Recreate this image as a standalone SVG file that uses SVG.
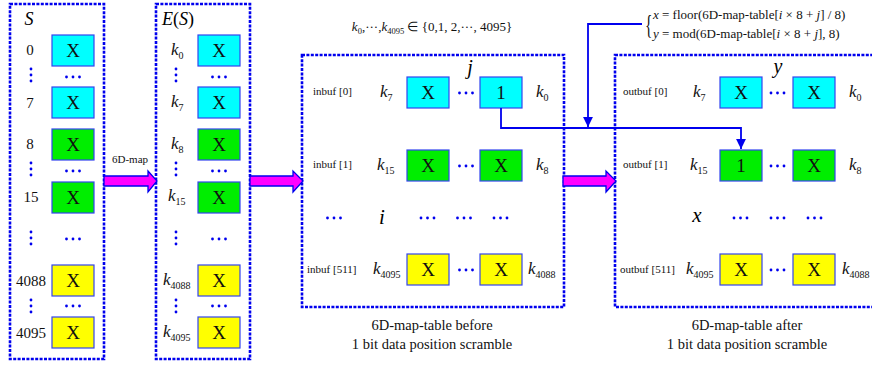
<svg xmlns="http://www.w3.org/2000/svg" width="872" height="367" viewBox="0 0 872 367" font-family="Liberation Serif">
<style>
.frame{fill:none;stroke:#0000ee;stroke-width:2.6;stroke-dasharray:3 1.4}
.cell{stroke:#3344ee;stroke-width:1.2}
.cy{fill:#00ffff}.gr{fill:#00ee00}.ye{fill:#ffff00}
.cx{font-size:19px;text-anchor:middle;fill:#111}
.num{font-size:15px;text-anchor:middle;fill:#111}
.k{font-size:17px;font-style:italic;fill:#111}
.sub{font-size:10px;font-style:normal}
.buf{font-size:11px;fill:#111}
.cap{font-size:14.5px;text-anchor:middle;fill:#111}
.fm{font-size:13px;fill:#111}
.it{font-style:italic}
.fat{fill:#ff00ff;stroke:#0000ee;stroke-width:1.3}
.conn{fill:none;stroke:#0000ee;stroke-width:1.8}
.dot{fill:#0000ee}
</style>
<defs>
<g id="hd"><circle class="dot" cx="-6.5" cy="0" r="1.4"/><circle class="dot" cx="0" cy="0" r="1.4"/><circle class="dot" cx="6.5" cy="0" r="1.4"/></g>
<g id="vd"><circle class="dot" cx="0" cy="-6" r="1.4"/><circle class="dot" cx="0" cy="0" r="1.4"/><circle class="dot" cx="0" cy="6" r="1.4"/></g>
<marker id="ah" viewBox="0 0 10 10" refX="10" refY="5" markerWidth="5.5" markerHeight="5.5" orient="auto"><path d="M0,0L10,5L0,10z" fill="#0000ee"/></marker>
</defs>

<g id="nodeS">
<rect class="frame" x="10" y="4" width="94" height="355"/>
<text font-family="Liberation Serif" x="29" y="25" font-size="18" font-style="italic" text-anchor="middle">S</text>
<rect class="cell cy" x="52" y="35" width="42" height="31"/><text font-family="Liberation Serif" class="cx" x="73" y="57">X</text>
<rect class="cell cy" x="52" y="87" width="42" height="31"/><text font-family="Liberation Serif" class="cx" x="73" y="109">X</text>
<rect class="cell gr" x="52" y="129" width="42" height="31"/><text font-family="Liberation Serif" class="cx" x="73" y="151">X</text>
<rect class="cell gr" x="52" y="182" width="42" height="31"/><text font-family="Liberation Serif" class="cx" x="73" y="204">X</text>
<rect class="cell ye" x="52" y="265" width="42" height="31"/><text font-family="Liberation Serif" class="cx" x="73" y="287">X</text>
<rect class="cell ye" x="52" y="317" width="42" height="31"/><text font-family="Liberation Serif" class="cx" x="73" y="339">X</text>
<text font-family="Liberation Serif" class="num" x="30" y="55">0</text>
<text font-family="Liberation Serif" class="num" x="30" y="108">7</text>
<text font-family="Liberation Serif" class="num" x="30" y="149">8</text>
<text font-family="Liberation Serif" class="num" x="31" y="202">15</text>
<text font-family="Liberation Serif" class="num" x="31" y="286">4088</text>
<text font-family="Liberation Serif" class="num" x="31" y="338">4095</text>
<use href="#vd" x="31" y="75"/><use href="#vd" x="31" y="169"/><use href="#vd" x="31" y="238"/><use href="#vd" x="31" y="306"/>
<use href="#hd" x="73" y="77"/><use href="#hd" x="73" y="171"/><use href="#hd" x="73" y="239"/><use href="#hd" x="73" y="306"/>
</g>

<g id="nodeES">
<rect class="frame" x="156" y="4" width="94" height="355"/>
<text font-family="Liberation Serif" x="178" y="25" font-size="18" text-anchor="middle"><tspan class="it">E</tspan>(<tspan class="it">S</tspan>)</text>
<rect class="cell cy" x="198" y="35" width="42" height="31"/><text font-family="Liberation Serif" class="cx" x="219" y="57">X</text>
<rect class="cell cy" x="198" y="87" width="42" height="31"/><text font-family="Liberation Serif" class="cx" x="219" y="109">X</text>
<rect class="cell gr" x="198" y="129" width="42" height="31"/><text font-family="Liberation Serif" class="cx" x="219" y="151">X</text>
<rect class="cell gr" x="198" y="182" width="42" height="31"/><text font-family="Liberation Serif" class="cx" x="219" y="204">X</text>
<rect class="cell ye" x="198" y="265" width="42" height="31"/><text font-family="Liberation Serif" class="cx" x="219" y="287">X</text>
<rect class="cell ye" x="198" y="317" width="42" height="31"/><text font-family="Liberation Serif" class="cx" x="219" y="339">X</text>
<text font-family="Liberation Serif" class="k" x="171" y="55">k<tspan class="sub" dy="4">0</tspan></text>
<text font-family="Liberation Serif" class="k" x="171" y="107">k<tspan class="sub" dy="4">7</tspan></text>
<text font-family="Liberation Serif" class="k" x="171" y="149">k<tspan class="sub" dy="4">8</tspan></text>
<text font-family="Liberation Serif" class="k" x="168" y="201">k<tspan class="sub" dy="4">15</tspan></text>
<text font-family="Liberation Serif" class="k" x="163" y="285">k<tspan class="sub" dy="4">4088</tspan></text>
<text font-family="Liberation Serif" class="k" x="163" y="337">k<tspan class="sub" dy="4">4095</tspan></text>
<use href="#vd" x="176" y="75"/><use href="#vd" x="176" y="169"/><use href="#vd" x="176" y="238"/><use href="#vd" x="176" y="306"/>
<use href="#hd" x="219" y="77"/><use href="#hd" x="219" y="171"/><use href="#hd" x="219" y="239"/><use href="#hd" x="219" y="306"/>
</g>

<g id="nodeBefore">
<rect class="frame" x="302" y="55" width="262" height="252"/>
<text font-family="Liberation Serif" x="470" y="74" font-size="20" font-style="italic" text-anchor="middle">j</text>
<text font-family="Liberation Serif" class="buf" x="313" y="95">inbuf [0]</text>
<text font-family="Liberation Serif" class="buf" x="313" y="168">inbuf [1]</text>
<text font-family="Liberation Serif" class="buf" x="307" y="273">inbuf [511]</text>
<rect class="cell cy" x="407" y="77" width="42" height="31"/><text font-family="Liberation Serif" class="cx" x="428" y="99">X</text>
<rect class="cell cy" x="480" y="77" width="42" height="31"/><text font-family="Liberation Serif" class="cx" x="501" y="99">1</text>
<rect class="cell gr" x="407" y="150" width="42" height="31"/><text font-family="Liberation Serif" class="cx" x="428" y="172">X</text>
<rect class="cell gr" x="480" y="150" width="42" height="31"/><text font-family="Liberation Serif" class="cx" x="501" y="172">X</text>
<rect class="cell ye" x="407" y="254" width="42" height="31"/><text font-family="Liberation Serif" class="cx" x="428" y="276">X</text>
<rect class="cell ye" x="480" y="254" width="42" height="31"/><text font-family="Liberation Serif" class="cx" x="501" y="276">X</text>
<text font-family="Liberation Serif" class="k" x="380" y="97">k<tspan class="sub" dy="4">7</tspan></text>
<text font-family="Liberation Serif" class="k" x="536" y="97">k<tspan class="sub" dy="4">0</tspan></text>
<text font-family="Liberation Serif" class="k" x="377" y="170">k<tspan class="sub" dy="4">15</tspan></text>
<text font-family="Liberation Serif" class="k" x="536" y="170">k<tspan class="sub" dy="4">8</tspan></text>
<text font-family="Liberation Serif" class="k" x="373" y="274">k<tspan class="sub" dy="4">4095</tspan></text>
<text font-family="Liberation Serif" class="k" x="528" y="274">k<tspan class="sub" dy="4">4088</tspan></text>
<use href="#hd" x="466" y="93"/><use href="#hd" x="466" y="166"/><use href="#hd" x="466" y="270"/>
<use href="#hd" x="334" y="218"/>
<text font-family="Liberation Serif" x="382" y="224" font-size="21" font-style="italic" text-anchor="middle">i</text>
<use href="#hd" x="427.5" y="218"/><use href="#hd" x="464" y="218"/><use href="#hd" x="500.5" y="218"/>
<text font-family="Liberation Serif" class="cap" x="432" y="330">6D-map-table before</text>
<text font-family="Liberation Serif" class="cap" x="432" y="349">1 bit data position scramble</text>
</g>

<g id="nodeAfter">
<rect class="frame" x="615" y="55" width="272" height="252"/>
<text font-family="Liberation Serif" x="778" y="73" font-size="20" font-style="italic" text-anchor="middle">y</text>
<text font-family="Liberation Serif" class="buf" x="623" y="95">outbuf [0]</text>
<text font-family="Liberation Serif" class="buf" x="623" y="168">outbuf [1]</text>
<text font-family="Liberation Serif" class="buf" x="620" y="273">outbuf [511]</text>
<rect class="cell cy" x="720" y="77" width="42" height="31"/><text font-family="Liberation Serif" class="cx" x="741" y="99">X</text>
<rect class="cell cy" x="793" y="77" width="42" height="31"/><text font-family="Liberation Serif" class="cx" x="814" y="99">X</text>
<rect class="cell gr" x="720" y="150" width="42" height="31"/><text font-family="Liberation Serif" class="cx" x="741" y="172">1</text>
<rect class="cell gr" x="793" y="150" width="42" height="31"/><text font-family="Liberation Serif" class="cx" x="814" y="172">X</text>
<rect class="cell ye" x="720" y="254" width="42" height="31"/><text font-family="Liberation Serif" class="cx" x="741" y="276">X</text>
<rect class="cell ye" x="793" y="254" width="42" height="31"/><text font-family="Liberation Serif" class="cx" x="814" y="276">X</text>
<text font-family="Liberation Serif" class="k" x="693" y="97">k<tspan class="sub" dy="4">7</tspan></text>
<text font-family="Liberation Serif" class="k" x="849" y="97">k<tspan class="sub" dy="4">0</tspan></text>
<text font-family="Liberation Serif" class="k" x="690" y="170">k<tspan class="sub" dy="4">15</tspan></text>
<text font-family="Liberation Serif" class="k" x="849" y="170">k<tspan class="sub" dy="4">8</tspan></text>
<text font-family="Liberation Serif" class="k" x="686" y="274">k<tspan class="sub" dy="4">4095</tspan></text>
<text font-family="Liberation Serif" class="k" x="842" y="274">k<tspan class="sub" dy="4">4088</tspan></text>
<use href="#hd" x="777.5" y="93"/><use href="#hd" x="777.5" y="166"/><use href="#hd" x="777.5" y="270"/>
<text font-family="Liberation Serif" x="697" y="222" font-size="21" font-style="italic" text-anchor="middle">x</text>
<use href="#hd" x="740.5" y="218"/><use href="#hd" x="777.5" y="218"/><use href="#hd" x="814.5" y="218"/>
<text font-family="Liberation Serif" class="cap" x="747" y="330">6D-map-table after</text>
<text font-family="Liberation Serif" class="cap" x="747" y="349">1 bit data position scramble</text>
</g>

<g id="formulaTop">
<text font-family="Liberation Serif" class="fm" x="432" y="31" text-anchor="middle"><tspan class="it">k</tspan><tspan font-size="8.5" dy="3">0</tspan><tspan dy="-3">,···,</tspan><tspan class="it">k</tspan><tspan font-size="8.5" dy="3">4095</tspan><tspan dy="-3"> ∈ {0,1, 2,···, 4095}</tspan></text>
</g>

<g id="formulaRight">
<text font-family="Liberation Serif" x="645" y="34" font-size="28" fill="#111" transform="translate(645 24) scale(0.55 1) translate(-645 -24)">{</text>
<text font-family="Liberation Serif" class="fm" x="653" y="19"><tspan class="it">x</tspan> = floor(6D-map-table[<tspan class="it">i</tspan> × 8 + <tspan class="it">j</tspan>] / 8)</text>
<text font-family="Liberation Serif" class="fm" x="653" y="38"><tspan class="it">y</tspan> = mod(6D-map-table[<tspan class="it">i</tspan> × 8 + <tspan class="it">j</tspan>], 8)</text>
</g>

<g id="connectors">
<polygon class="fat" points="104,176 148,176 148,171 157,181 148,192 148,186 104,186"/>
<text font-family="Liberation Serif" x="130" y="163" font-size="11" fill="#111" text-anchor="middle">6D-map</text>
<polygon class="fat" points="250,176 293,176 293,171 303,181 293,192 293,186 250,186"/>
<polygon class="fat" points="563,176 606,176 606,171 616,181 606,192 606,186 563,186"/>
<path class="conn" d="M501,108 V128 H741 V149" marker-end="url(#ah)"/>
<path class="conn" d="M642,24 H588 V127" marker-end="url(#ah)"/>
</g>
</svg>
